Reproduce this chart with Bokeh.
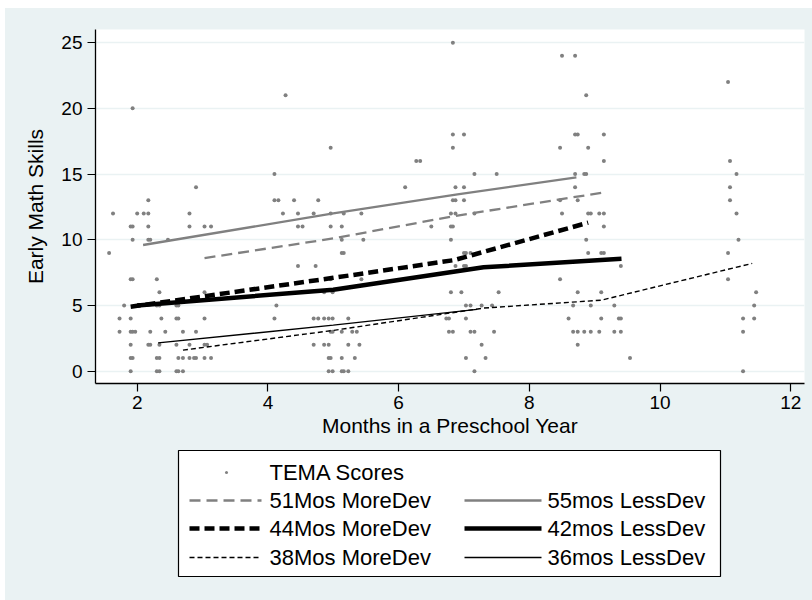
from bokeh.plotting import figure
from bokeh.models import Range1d, FixedTicker
from bokeh.layouts import column
from bokeh.embed import file_html
from bokeh.resources import INLINE
from bokeh.core.properties import value

# ---------------- data ----------------
# TEMA scores (months in preschool year, score)
tema_x = [1.57, 1.63, 1.93, 1.90, 1.93, 1.93, 2.00, 2.10, 2.17, 2.17, 2.17, 2.17, 2.20, 1.90, 1.93,
          1.80, 1.73, 1.90, 1.73, 1.90, 1.93, 1.97, 1.90, 1.90, 1.93, 1.90, 2.30, 2.34, 2.30, 2.34,
          2.37, 2.20, 2.43, 2.17, 2.20, 2.34, 2.30, 2.34, 2.30, 2.34, 2.47, 2.80, 2.80, 2.90, 3.03,
          3.13, 2.60, 2.63, 2.60, 2.63, 2.70, 2.90, 3.03, 2.60, 2.80, 3.03, 3.07, 2.63, 2.70, 2.80,
          2.87, 2.90, 3.03, 3.13, 2.60, 2.63, 2.70, 3.03,
          4.10, 4.27, 4.10, 4.16, 4.40, 4.77, 4.23, 4.46, 4.70, 4.46, 4.53, 4.46, 4.73, 4.13, 4.10,
          4.70, 4.77, 4.70, 4.86, 4.99, 4.86, 4.93, 4.99, 5.23, 4.96, 4.96, 5.16, 5.43, 4.96, 5.13,
          5.13, 5.46, 5.13, 5.16, 4.96, 5.43, 4.96, 4.99, 5.13, 5.29, 5.36, 4.86, 4.93, 5.23, 5.40,
          4.93, 4.96, 5.13, 5.33, 4.93, 4.99, 5.13, 5.16, 5.23,
          6.10, 6.27, 6.33, 6.83, 6.83, 7.00, 6.83, 7.16, 7.50, 6.87, 7.00, 6.83, 6.87, 7.00, 6.80,
          6.87, 7.16, 6.50, 6.80, 6.83, 6.80, 7.00, 7.03, 7.10, 6.87, 7.00, 7.03, 6.80, 6.96, 7.53,
          7.03, 7.10, 7.27, 7.43, 6.73, 6.77, 7.03, 6.77, 6.83, 7.10, 7.16, 7.46, 7.27, 7.03, 7.33,
          7.16,
          8.50, 8.70, 8.87, 8.70, 8.74, 9.14, 8.47, 8.90, 9.14, 8.70, 8.84, 8.87, 8.70, 8.47, 8.74,
          8.50, 8.90, 8.94, 9.07, 9.14, 9.14, 8.87, 8.90, 9.10, 9.14, 9.40, 8.47, 8.74, 9.10, 8.67,
          8.94, 9.30, 8.60, 9.10, 9.37, 9.40, 8.67, 8.74, 8.84, 8.94, 9.07, 9.30, 9.40, 8.74, 9.54,
          11.04, 11.07, 11.17, 11.07, 11.07, 11.17, 11.20, 11.04, 11.04, 11.47, 11.44, 11.27, 11.44,
          11.27, 11.27]
tema_y = [9, 12, 20, 11, 11, 10, 12, 12, 12, 13, 11, 10, 10, 7, 7,
          5, 4, 4, 3, 3, 3, 3, 2, 1, 1, 0, 7, 6, 5, 5,
          4, 3, 3, 2, 2, 2, 1, 1, 0, 0, 10, 12, 11, 14, 11,
          11, 5, 5, 4, 4, 3, 3, 4, 2, 2, 2, 2, 1, 1, 1,
          1, 1, 1, 1, 0, 0, 0, 6,
          15, 21, 13, 13, 13, 13, 12, 12, 12, 11, 11, 8, 8, 5, 4,
          4, 4, 2, 6, 6, 4, 4, 4, 4, 17, 12, 12, 12, 11, 11,
          10, 10, 9, 9, 7, 7, 3, 3, 3, 3, 3, 2, 2, 2, 2,
          1, 1, 1, 1, 0, 0, 0, 0, 0,
          14, 16, 16, 25, 18, 18, 17, 15, 15, 14, 14, 13, 13, 13, 12,
          12, 12, 11, 11, 11, 10, 9, 9, 9, 8, 8, 8, 6, 6, 6,
          5, 5, 5, 5, 4, 4, 4, 3, 3, 3, 3, 3, 2, 1, 1,
          0,
          24, 24, 21, 18, 18, 18, 17, 17, 16, 15, 15, 15, 14, 13, 13,
          12, 12, 12, 12, 12, 11, 10, 9, 9, 9, 8, 7, 6, 6, 5,
          5, 5, 4, 4, 4, 4, 3, 3, 3, 3, 3, 3, 3, 2, 1,
          22, 16, 15, 14, 13, 12, 10, 9, 7, 6, 5, 4, 4,
          3, 0]

# fitted trajectories
mos51_more_x = [3.03, 5.0, 6.85, 9.14]
mos51_more_y = [8.6, 10.1, 11.8, 13.6]
mos55_less_x = [2.09, 5.0, 6.9, 8.72]
mos55_less_y = [9.6, 12.0, 13.45, 14.75]
mos44_more_x = [1.9, 5.0, 6.85, 8.9]
mos44_more_y = [4.9, 7.1, 8.45, 11.3]
mos42_less_x = [2.0, 5.0, 7.3, 9.41]
mos42_less_y = [5.0, 6.2, 7.9, 8.55]
mos38_more_x = [2.7, 5.0, 7.3, 9.1, 11.41]
mos38_more_y = [1.6, 3.1, 4.8, 5.4, 8.2]
mos36_less_x = [2.32, 5.0, 7.2]
mos36_less_y = [2.15, 3.5, 4.7]

x_ticks = [2, 4, 6, 8, 10, 12]
y_ticks = [0, 5, 10, 15, 20, 25]
x_title = "Months in a Preschool Year"
y_title = "Early Math Skills"
legend_labels = ["TEMA Scores", "51Mos MoreDev", "55mos LessDev", "44Mos MoreDev",
                 "42mos LessDev", "38Mos MoreDev", "36mos LessDev"]

# ---------------- style ----------------
BG = "#EAF2F3"
GRAY = "#808080"
FONT = "Liberation Sans"

styles = {
    "mos51_more": dict(color=GRAY, width=2.3, dash="11 6"),
    "mos55_less": dict(color=GRAY, width=2.3, dash="solid"),
    "mos44_more": dict(color="black", width=4.5, dash="10 5"),
    "mos42_less": dict(color="black", width=4.5, dash="solid"),
    "mos38_more": dict(color="black", width=1.4, dash="5 3"),
    "mos36_less": dict(color="black", width=1.4, dash="solid"),
}

# ---------------- main plot ----------------
p = figure(width=807, height=440, output_backend="svg", toolbar_location=None,
           x_range=Range1d(1.362, 12.21), y_range=Range1d(-0.94, 26.0),
           min_border_left=90, min_border_right=8, min_border_top=21, min_border_bottom=65,
           background_fill_color="white", border_fill_color=BG, outline_line_color=None)

p.scatter(tema_x, tema_y, size=4, color=GRAY, line_color=None)

series = [
    ("mos51_more", mos51_more_x, mos51_more_y),
    ("mos55_less", mos55_less_x, mos55_less_y),
    ("mos44_more", mos44_more_x, mos44_more_y),
    ("mos42_less", mos42_less_x, mos42_less_y),
    ("mos38_more", mos38_more_x, mos38_more_y),
    ("mos36_less", mos36_less_x, mos36_less_y),
]
for key, xs, ys in series:
    st = styles[key]
    p.line(xs, ys, line_color=st["color"], line_width=st["width"], line_dash=st["dash"])

p.xgrid.visible = False
p.ygrid.grid_line_color = BG
p.ygrid.grid_line_width = 1.5
p.ygrid.ticker = FixedTicker(ticks=y_ticks)

p.xaxis.ticker = FixedTicker(ticks=x_ticks)
p.yaxis.ticker = FixedTicker(ticks=y_ticks)
for ax in (p.xaxis[0], p.yaxis[0]):
    ax.axis_line_color = "black"
    ax.axis_line_width = 1.3
    ax.major_tick_line_color = "black"
    ax.major_tick_line_width = 1.2
    ax.major_tick_in = 0
    ax.major_tick_out = 8
    ax.minor_tick_line_color = None
    ax.major_label_text_font = FONT
    ax.major_label_text_font_size = "19px"
    ax.major_label_text_color = "black"
    ax.axis_label_text_font = FONT
    ax.axis_label_text_font_size = "21px"
    ax.axis_label_text_font_style = "normal"
    ax.axis_label_text_color = "black"
p.yaxis.major_label_orientation = "horizontal"
p.yaxis.major_label_standoff = 5
p.yaxis.axis_label_standoff = 11
p.xaxis.major_label_standoff = 4
p.xaxis.axis_label_standoff = 2
p.xaxis.axis_label = x_title
p.yaxis.axis_label = y_title

# ---------------- legend (drawn in page pixel coordinates) ----------------
leg = figure(width=807, height=152, output_backend="svg", toolbar_location=None,
             x_range=Range1d(95, 804), y_range=Range1d(600, 448),
             x_axis_type=None, y_axis_type=None,
             min_border_left=90, min_border_right=8, min_border_top=0, min_border_bottom=0,
             background_fill_color=BG, border_fill_color=BG, outline_line_color=None)
leg.xgrid.visible = False
leg.ygrid.visible = False

box_left, box_right, box_top, box_bottom = 178, 720, 450, 576
leg.quad(left=[box_left], right=[box_right], top=[box_top], bottom=[box_bottom],
         fill_color="white", line_color="black", line_width=1.2)

row_y = [472, 500, 528, 557]
c1_sym = (189, 261)
c1_txt = 269
c2_sym = (464, 541)
c2_txt = 547

leg.scatter([226], [row_y[0]], size=3, color=GRAY, line_color=None)
layout_items = [
    ("mos51_more", c1_sym, row_y[1]), ("mos55_less", c2_sym, row_y[1]),
    ("mos44_more", c1_sym, row_y[2]), ("mos42_less", c2_sym, row_y[2]),
    ("mos38_more", c1_sym, row_y[3]), ("mos36_less", c2_sym, row_y[3]),
]
for key, (x0, x1), yy in layout_items:
    st = styles[key]
    leg.line([x0, x1], [yy, yy], line_color=st["color"], line_width=st["width"], line_dash=st["dash"])

txt_x = [c1_txt, c1_txt, c2_txt, c1_txt, c2_txt, c1_txt, c2_txt]
txt_y = [row_y[0], row_y[1], row_y[1], row_y[2], row_y[2], row_y[3], row_y[3]]
leg.text(txt_x, txt_y, text=legend_labels, text_baseline="middle", text_align="left",
         text_font=value(FONT), text_font_size="22px", text_color="black")

layout = column(p, leg, spacing=0, margin=(8, 0, 0, 5), styles={"background-color": BG})
open("out.html", "w").write(file_html(layout, INLINE))
